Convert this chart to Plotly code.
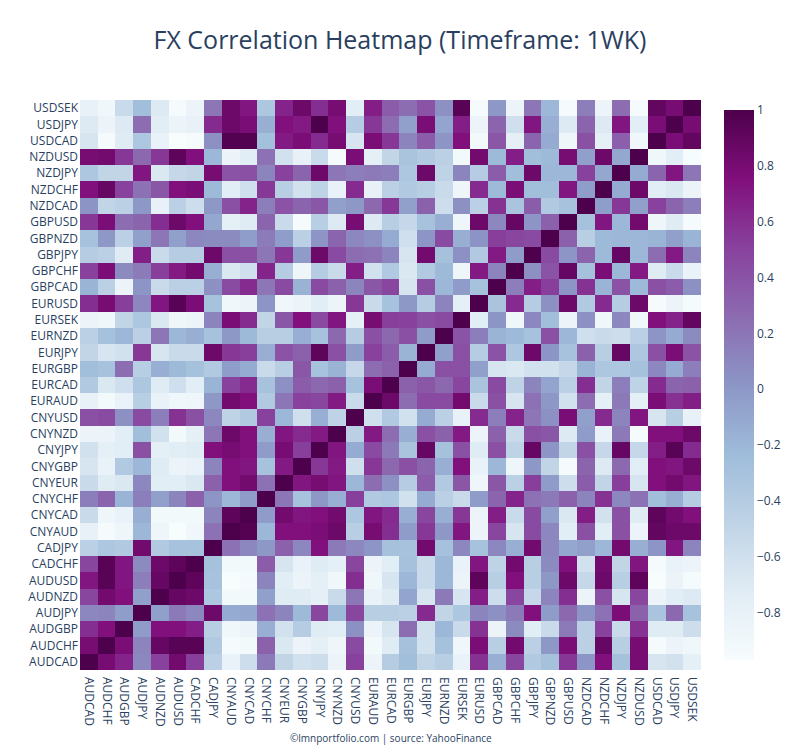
import plotly.graph_objects as go

pairs = ["AUDCAD","AUDCHF","AUDGBP","AUDJPY","AUDNZD","AUDUSD","CADCHF","CADJPY","CNYAUD","CNYCAD","CNYCHF","CNYEUR","CNYGBP","CNYJPY","CNYNZD","CNYUSD","EURAUD","EURCAD","EURGBP","EURJPY","EURNZD","EURSEK","EURUSD","GBPCAD","GBPCHF","GBPJPY","GBPNZD","GBPUSD","NZDCAD","NZDCHF","NZDJPY","NZDUSD","USDCAD","USDJPY","USDSEK"]

USDSEK = [-.8,-.9,-.55,-.25,-.7,-.95,-.85,.2,.85,.72,-.35,.65,.85,.6,.8,-.75,.68,.35,.25,.4,.05,.95,-.95,0,-.85,.2,-.2,-.95,.15,-.85,.25,-.95,.9,.8,1]
USDJPY = [-.7,-.85,-.7,.25,-.75,-.85,-.8,.62,.85,.78,-.15,.75,.7,1,.75,-.4,.55,.25,-.05,.78,-.08,.68,-.85,.3,-.6,.72,-.15,-.7,.3,-.7,.72,-.75,.78,1,.8]
USDCAD = [-.65,-.95,-.72,-.35,-.82,-.97,-.95,.05,.97,.97,-.27,.7,.78,.62,.8,-.65,.78,.55,.12,.35,.02,.75,-.92,.38,-.78,.3,-.12,-.88,.42,-.78,.33,-.9,1,.78,.9]
NZDUSD = [.8,.82,.55,.28,.55,.92,.75,-.2,-.85,-.75,.22,-.62,-.8,-.55,-.95,.78,-.78,-.5,-.32,-.38,-.45,-.92,.82,-.22,.68,-.25,-.22,.8,-.05,.85,-.1,1,-.9,-.75,-.96]
NZDJPY = [-.35,-.5,-.5,.72,-.68,-.52,-.5,.8,.4,.42,.12,.5,.3,.85,.2,.15,.18,.15,-.35,.85,-.48,.12,-.4,.35,-.25,.85,-.2,-.2,.5,-.1,1,-.12,.3,.72,.2]
NZDCHF = [.75,.88,.5,.22,.38,.75,.78,-.22,-.75,-.6,.55,-.42,-.62,-.48,-.82,.62,-.8,-.45,-.38,-.42,-.55,-.88,.62,-.22,.78,-.25,-.25,.72,-.03,1,-.12,.85,-.75,-.68,-.85]
NZDCAD = [.03,-.5,-.45,0,-.8,-.45,-.58,0,.42,.65,.15,.4,.3,.38,-.05,0,.28,.55,-.05,.32,-.58,.05,-.45,.58,-.32,.35,-.38,-.3,1,-.03,.55,-.05,.5,.3,.15]
GBPUSD = [.55,.78,.25,.3,.6,.85,.75,-.1,-.78,-.72,.3,-.55,-.95,-.42,-.7,.8,-.7,-.42,-.52,-.3,-.15,-.88,.85,.1,.88,.02,.32,1,-.28,.72,-.2,.82,-.88,-.72,-.95]
GBPNZD = [-.3,0,-.45,-.05,.2,-.05,.1,.08,.08,-.03,.17,-.03,-.45,.02,.3,.1,.05,-.12,-.6,.02,.45,-.15,.03,.52,.48,.45,1,.32,-.42,-.22,-.2,-.2,-.18,-.05,-.18]
GBPJPY = [-.4,-.45,-.72,.68,-.55,-.4,-.4,.85,.42,.42,.2,.55,-.02,.85,.45,.25,.22,.12,-.65,.82,-.28,.05,-.38,.7,-.02,1,.45,.02,.3,-.22,.88,-.2,.25,.7,.12]
GBPCHF = [.5,.78,.08,.17,.52,.7,.82,-.15,-.68,-.6,.65,-.4,-.88,-.4,-.55,.68,-.62,-.38,-.68,-.38,-.22,-.88,.7,.12,1,.05,.4,.88,-.28,.78,-.2,.7,-.72,-.55,-.82]
GBPCAD = [-.18,-.45,-.85,.02,-.55,-.45,-.45,.05,.45,.62,.2,.45,-.17,.45,.32,.12,.38,.48,-.65,.42,-.2,-.02,-.3,1,.15,.68,.52,.02,.58,-.18,.4,-.22,.42,.35,.05]
EURUSD = [.6,.8,.52,.1,.72,.95,.78,-.3,-.9,-.85,.02,-.9,-.85,-.75,-.85,.55,-.55,-.3,0,-.4,.12,-.78,1,-.32,.62,-.4,.05,.85,-.38,.62,-.4,.85,-.95,-.85,-.95]
EURSEK = [-.85,-.9,-.5,-.35,-.68,-.88,-.85,.12,.78,.62,-.5,.38,.75,.45,.72,-.78,.8,.52,.5,.42,.45,1,-.75,.02,-.9,.1,-.25,-.85,.05,-.9,.1,-.9,.75,.65,.9]
EURNZD = [-.45,-.28,-.2,-.45,.2,-.2,-.15,-.3,0,-.22,-.42,-.42,-.15,-.3,.28,-.4,.42,.28,.42,-.02,1,.4,.15,-.18,-.22,-.3,.42,-.2,-.6,-.55,-.58,-.45,.02,-.12,.08]
EURJPY = [-.5,-.65,-.62,.55,-.65,-.55,-.55,.85,.55,.52,-.15,.4,.32,.92,.42,-.02,.5,.35,-.18,1,-.05,.42,-.4,.4,-.35,.85,.02,-.3,.32,-.42,.88,-.35,.42,.78,.4]
EURGBP = [-.25,-.3,.25,-.42,-.15,-.22,-.28,-.38,-.03,-.12,-.55,-.42,.38,-.3,-.17,-.52,.25,.32,1,-.12,.42,.42,-.05,-.65,-.68,-.62,-.62,-.52,-.18,-.35,-.35,-.28,.1,-.12,.15]
EURCAD = [-.38,-.68,-.6,-.35,-.72,-.6,-.75,-.18,.5,.62,-.3,.05,.35,.28,.32,-.3,.78,1,.32,.38,.28,.48,-.32,.45,-.48,.12,-.08,-.45,.6,-.5,.15,-.48,.62,.3,.32]
EURAUD = [-.8,-.92,-.82,-.42,-.82,-.9,-.88,0,.82,.75,-.38,.2,.5,.48,.7,-.55,1,.85,.25,.45,.45,.82,-.55,.42,-.65,.22,0,-.62,.25,-.78,.18,-.78,.78,.58,.68]
CNYUSD = [.42,.45,.05,.45,.15,.58,.42,.1,-.48,-.38,.5,-.2,-.6,-.15,-.48,1,-.6,-.38,-.62,-.12,-.45,-.8,.62,.15,.65,.2,.05,.78,-.05,.62,.12,.72,-.65,-.42,-.8]
CNYNZD = [-.85,-.85,-.75,-.25,-.62,-.92,-.78,.2,.85,.75,-.15,.72,.62,.7,1,-.45,.7,.25,-.15,.42,.32,.7,-.85,.32,-.55,.42,.38,-.7,-.02,-.82,.18,-.95,.75,.75,.85]
CNYJPY = [-.62,-.78,-.75,.42,-.78,-.75,-.72,.75,.8,.75,-.02,.8,.52,1,.72,-.12,.45,.18,-.32,.88,-.28,.42,-.72,.42,-.48,.88,.02,-.5,.42,-.52,.88,-.52,.68,.95,.62]
CNYGBP = [-.65,-.82,-.38,-.2,-.72,-.85,-.82,.12,.75,.72,-.3,.7,1,.55,.7,-.6,.55,.28,.42,.3,-.15,.75,-.82,-.2,-.88,0,-.5,-.95,.3,-.7,.28,-.75,.75,.72,.85]
CNYEUR = [-.55,-.72,-.68,.1,-.75,-.75,-.68,.32,.75,.82,.22,1,.72,.8,.72,-.2,.25,.05,-.4,.35,-.38,.38,-.88,.38,-.45,.52,-.02,-.58,.35,-.5,.52,-.65,.75,.82,.72]
CNYCHF = [.15,.3,-.18,.15,-.05,.12,.32,.02,-.2,-.02,1,.2,-.3,0,-.15,.52,-.38,-.35,-.62,-.12,-.45,-.55,-.02,.3,.65,.22,.18,.32,.12,.58,.1,.22,-.25,-.15,-.4]
CNYCAD = [-.55,-.88,-.82,-.15,-.92,-.92,-.92,.12,.92,1,-.02,.82,.72,.75,.82,-.35,.72,.62,-.15,.48,-.15,.55,-.85,.68,-.55,.45,-.05,-.68,.68,-.62,.42,-.72,.92,.82,.75]
CNYAUD = [-.8,-.95,-.88,-.2,-.88,-.97,-.9,.22,1,.96,-.2,.75,.75,.78,.85,-.42,.8,.6,-.02,.55,0,.72,-.85,.48,-.65,.45,.1,-.75,.42,-.75,.42,-.85,.9,.85,.85]
CADJPY = [-.45,-.35,-.38,.82,-.38,-.3,-.3,1,.22,.1,0,.32,.1,.75,.18,.1,.02,-.28,-.3,.82,-.28,.1,-.3,.1,-.15,.82,.1,-.1,-.05,-.2,.82,-.15,.02,.72,.12]
CADCHF = [.48,.95,.72,.08,.85,.92,1,-.28,-.92,-.92,.35,-.65,-.82,-.72,-.78,.48,-.85,-.75,-.28,-.55,-.2,-.82,.72,-.48,.82,-.42,.08,.75,-.62,.82,-.5,.72,-.95,-.82,-.85]
AUDUSD = [.72,.95,.72,.15,.88,1,.92,-.3,-.97,-.93,.12,-.75,-.85,-.78,-.9,.6,-.9,-.65,-.2,-.55,-.2,-.85,.92,-.42,.75,-.42,0,.85,-.52,.85,-.42,.92,-.97,-.85,-.95]
AUDNZD = [.48,.82,.75,-.05,1,.88,.85,-.35,-.92,-.92,-.05,-.72,-.72,-.78,-.55,.2,-.82,-.72,-.08,-.65,.18,-.65,.68,-.58,.48,-.52,.12,.6,-.85,.42,-.65,.48,-.85,-.75,-.7]
AUDJPY = [.1,.12,-.03,1,-.05,.18,.1,.85,-.12,-.1,.22,.12,-.22,.48,-.22,.48,-.42,-.42,-.45,.62,-.5,-.35,.12,.05,.18,.75,-.02,.28,.02,.22,.78,.32,-.32,.28,-.3]
AUDGBP = [.6,.75,1,-.02,.75,.75,.68,-.42,-.9,-.85,-.15,-.62,-.4,-.72,-.75,.05,-.85,-.65,.25,-.62,-.2,-.55,.58,-.85,.08,-.75,-.55,.18,-.45,.5,-.55,.58,-.72,-.72,-.58]
AUDCHF = [.8,1,.78,.12,.88,.95,.95,-.38,-.95,-.92,.32,-.68,-.85,-.78,-.88,.45,-.92,-.72,-.28,-.62,-.28,-.9,.78,-.42,.82,-.45,0,.78,-.45,.88,-.42,.8,-.95,-.85,-.9]
AUDCAD = [1,.8,.65,.1,.5,.82,.52,-.45,-.82,-.58,.18,-.5,-.62,-.58,-.85,.5,-.85,-.4,-.25,-.5,-.42,-.82,.58,-.15,.48,-.38,-.28,.55,.02,.75,-.28,.8,-.65,-.62,-.78]

z = [AUDCAD,AUDCHF,AUDGBP,AUDJPY,AUDNZD,AUDUSD,CADCHF,CADJPY,CNYAUD,CNYCAD,CNYCHF,CNYEUR,CNYGBP,CNYJPY,CNYNZD,CNYUSD,EURAUD,EURCAD,EURGBP,EURJPY,EURNZD,EURSEK,EURUSD,GBPCAD,GBPCHF,GBPJPY,GBPNZD,GBPUSD,NZDCAD,NZDCHF,NZDJPY,NZDUSD,USDCAD,USDJPY,USDSEK]

fig = go.Figure(go.Heatmap(z=z, x=pairs, y=pairs, colorscale="BuPu", zmin=-0.97, zmax=1,
                           colorbar=dict(dtick=0.2, tick0=0)))
fig.update_layout(
    template="plotly_white",
    title=dict(text="FX Correlation Heatmap (Timeframe: 1WK)", x=392/791, xanchor="center",
               y=0.9568, yanchor="middle", font=dict(size=25)),
    xaxis=dict(type="category", tickangle=90, tickmode="array", tickvals=pairs, ticktext=pairs,
               showgrid=False, zeroline=False, ticklabelstandoff=6),
    yaxis=dict(type="category", tickmode="array", tickvals=pairs, ticktext=pairs,
               showgrid=False, zeroline=False, ticklabelstandoff=1),
    width=791, height=741,
    margin=dict(l=72, r=97, t=92, b=79),
    annotations=[dict(text="©lmnportfolio.com | source: YahooFinance", x=0.5, y=-0.119, yanchor="middle",
                      xref="paper", yref="paper", showarrow=False, font=dict(size=10))],
)
fig.write_html("out.html")
